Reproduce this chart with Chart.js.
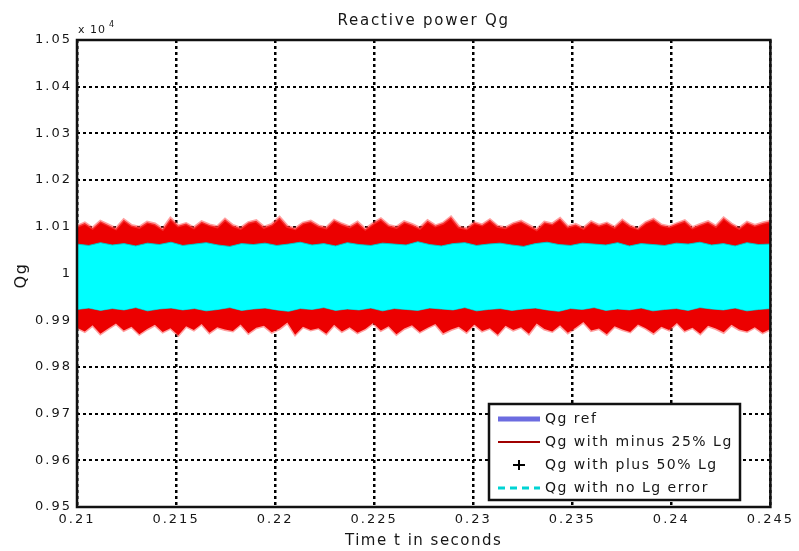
<!DOCTYPE html>
<html>
<head>
<meta charset="utf-8">
<title>Reactive power Qg</title>
<script src="https://cdn.jsdelivr.net/npm/chart.js@4.4.0/dist/chart.umd.min.js"></script>
<style>
  html, body { margin: 0; padding: 0; background: #fff; }
  #wrap { width: 799px; height: 551px; }
</style>
</head>
<body>
<div id="wrap"><canvas id="qgChart"></canvas></div>
<script>
// --- axis ticks (values shown in units of 10^4 var) ---
const xTicks = [0.21, 0.215, 0.22, 0.225, 0.23, 0.235, 0.24, 0.245];
const xTickLabels = ['0.21', '0.215', '0.22', '0.225', '0.23', '0.235', '0.24', '0.245'];
const yTicks = [0.95, 0.96, 0.97, 0.98, 0.99, 1.0, 1.01, 1.02, 1.03, 1.04, 1.05];
const yTickLabels = ['0.95', '0.96', '0.97', '0.98', '0.99', '1', '1.01', '1.02', '1.03', '1.04', '1.05'];
const timeStart = 0.21;
const timeEnd = 0.245;

// --- series ---
const qgRef = [1.0, 1.0];

// Qg with minus 25% Lg : upper / lower envelope of the fast oscillation
const qgMinus25Upper = [
  1.0101, 1.0108, 1.0097, 1.0112, 1.0104, 1.0096, 1.0115, 1.0103, 1.0099, 1.0110,
  1.0106, 1.0095, 1.0118, 1.0102, 1.0107, 1.0098, 1.0111, 1.0104, 1.0100, 1.0116,
  1.0103, 1.0097, 1.0109, 1.0113, 1.0099, 1.0105, 1.0120, 1.0101, 1.0096, 1.0108,
  1.0112, 1.0102, 1.0098, 1.0114, 1.0106, 1.0100, 1.0110, 1.0095, 1.0107, 1.0117,
  1.0103, 1.0099, 1.0111, 1.0105, 1.0097, 1.0113, 1.0102, 1.0108, 1.0121, 1.0100,
  1.0096, 1.0109, 1.0104, 1.0115, 1.0101, 1.0098, 1.0107, 1.0112, 1.0103, 1.0094,
  1.0110, 1.0106, 1.0118, 1.0100, 1.0105, 1.0097, 1.0111, 1.0103, 1.0108, 1.0099,
  1.0114, 1.0102, 1.0096, 1.0109, 1.0116, 1.0104, 1.0100, 1.0107, 1.0113, 1.0098,
  1.0105, 1.0111, 1.0101, 1.0119, 1.0106, 1.0097, 1.0110, 1.0103, 1.0108, 1.0112
];
const qgMinus25Lower = [
  0.9884, 0.9876, 0.9889, 0.9871, 0.9882, 0.9893, 0.9878, 0.9886, 0.9870, 0.9881,
  0.9890, 0.9875, 0.9883, 0.9868, 0.9887, 0.9879, 0.9892, 0.9873, 0.9885, 0.9880,
  0.9877, 0.9891, 0.9872, 0.9884, 0.9888, 0.9874, 0.9882, 0.9895, 0.9869, 0.9886,
  0.9879, 0.9883, 0.9871, 0.9890, 0.9876, 0.9885, 0.9873, 0.9881, 0.9894, 0.9878,
  0.9887, 0.9870, 0.9882, 0.9889, 0.9875, 0.9884, 0.9892, 0.9872, 0.9880, 0.9886,
  0.9874, 0.9891, 0.9877, 0.9883, 0.9869, 0.9888, 0.9879, 0.9885, 0.9871, 0.9893,
  0.9881, 0.9876, 0.9889, 0.9873, 0.9884, 0.9896, 0.9878, 0.9882, 0.9870, 0.9887,
  0.9880, 0.9875, 0.9891, 0.9883, 0.9872, 0.9886, 0.9879, 0.9894, 0.9877, 0.9884,
  0.9871, 0.9888, 0.9882, 0.9874, 0.9890, 0.9880, 0.9876, 0.9885, 0.9873, 0.9881
];

// Qg with plus 50% Lg (sits inside the cyan band)
const qgPlus50 = [
  1.0038, 0.9963, 1.0041, 0.9960, 1.0036, 0.9965, 1.0040, 0.9962, 1.0039, 0.9961,
  1.0037, 0.9964, 1.0042, 0.9959, 1.0035, 0.9963, 1.0040, 0.9961, 1.0038, 0.9962,
  1.0041, 0.9960, 1.0036, 0.9964
];

// Qg with no Lg error : upper / lower envelope
const qgNoErrUpper = [
  1.0063, 1.0060, 1.0066, 1.0061, 1.0064, 1.0059, 1.0065, 1.0062, 1.0067, 1.0060,
  1.0063, 1.0066, 1.0061, 1.0058, 1.0064, 1.0062, 1.0065, 1.0060, 1.0063, 1.0067,
  1.0061, 1.0064, 1.0059, 1.0066, 1.0062, 1.0060, 1.0065, 1.0063, 1.0061, 1.0068,
  1.0062, 1.0059, 1.0064, 1.0066, 1.0060, 1.0063, 1.0065, 1.0061, 1.0058, 1.0064,
  1.0067, 1.0062, 1.0060, 1.0065, 1.0063, 1.0061, 1.0066, 1.0059, 1.0064, 1.0062,
  1.0060, 1.0065, 1.0063, 1.0067, 1.0061, 1.0064, 1.0059, 1.0066, 1.0062, 1.0063
];
const qgNoErrLower = [
  0.9923, 0.9926, 0.9921, 0.9925, 0.9922, 0.9927, 0.9920, 0.9924, 0.9926, 0.9922,
  0.9925, 0.9920, 0.9923, 0.9927, 0.9921, 0.9924, 0.9926, 0.9922, 0.9919, 0.9925,
  0.9923, 0.9927, 0.9921, 0.9924, 0.9922, 0.9926, 0.9920, 0.9925, 0.9923, 0.9921,
  0.9926, 0.9924, 0.9922, 0.9927, 0.9920, 0.9923, 0.9925, 0.9921, 0.9924, 0.9926,
  0.9922, 0.9919, 0.9925, 0.9923, 0.9927, 0.9921, 0.9924, 0.9922, 0.9926, 0.9920,
  0.9923, 0.9925, 0.9921, 0.9927, 0.9924, 0.9922, 0.9926, 0.9920, 0.9923, 0.9925
];

const FONT = '"DejaVu Sans", "Liberation Sans", sans-serif';
const TEXT_COLOR = '#161616';

// samples are evenly spaced over the shown time window
function toPoints(values) {
  const step = (timeEnd - timeStart) / (values.length - 1);
  return values.map((v, i) => ({ x: timeStart + i * step, y: v }));
}

// the reference text is wide, so add some letter spacing
const spacingPlugin = {
  id: 'spacing',
  beforeLayout(chart) { chart.ctx.letterSpacing = '2px'; },
  beforeDraw(chart) { chart.ctx.letterSpacing = '2px'; }
};

// box, titles and the legend, MATLAB style
const decorPlugin = {
  id: 'decor',
  afterDraw(chart) {
    const ctx = chart.ctx;
    const a = chart.chartArea;
    ctx.save();

    // axes box
    ctx.strokeStyle = '#111';
    ctx.lineWidth = 2.5;
    ctx.setLineDash([]);
    ctx.strokeRect(a.left, a.top, a.right - a.left, a.bottom - a.top);

    ctx.fillStyle = TEXT_COLOR;

    // title
    ctx.letterSpacing = '1.8px';
    ctx.font = '15px ' + FONT;
    ctx.textAlign = 'center';
    ctx.textBaseline = 'middle';
    ctx.fillText('Reactive power Qg', (a.left + a.right) / 2, 21);

    // x axis title
    ctx.letterSpacing = '1.5px';
    ctx.fillText('Time t in seconds', (a.left + a.right) / 2, 541);

    // y axis title
    ctx.save();
    ctx.translate(22, (a.top + a.bottom) / 2 + 2);
    ctx.rotate(-Math.PI / 2);
    ctx.font = '16px ' + FONT;
    ctx.fillText('Qg', 0, 0);
    ctx.restore();

    // exponent
    ctx.letterSpacing = '1px';
    ctx.textAlign = 'left';
    ctx.textBaseline = 'alphabetic';
    ctx.font = '11px ' + FONT;
    ctx.fillText('x 10', a.left + 1, 33);
    ctx.font = '8px ' + FONT;
    ctx.fillText('4', a.left + 32, 27);

    // legend
    const lx = 489, ly = 404, lw = 251, lh = 96;
    ctx.fillStyle = '#fff';
    ctx.fillRect(lx, ly, lw, lh);
    ctx.strokeStyle = '#111';
    ctx.lineWidth = 2.5;
    ctx.strokeRect(lx, ly, lw, lh);

    const rows = [
      { label: 'Qg ref', kind: 'line', color: '#6c6ce0', width: 5, dash: [] },
      { label: 'Qg with minus 25% Lg', kind: 'line', color: '#a00000', width: 2, dash: [] },
      { label: 'Qg with plus 50% Lg', kind: 'cross', color: '#000' },
      { label: 'Qg with no Lg error', kind: 'line', color: '#00d4d4', width: 3, dash: [7, 5] }
    ];
    const rowY = [419, 442, 465, 488];
    ctx.font = '14px ' + FONT;
    ctx.letterSpacing = '1.5px';
    ctx.textBaseline = 'middle';
    rows.forEach((r, i) => {
      const y = rowY[i];
      if (r.kind === 'line') {
        ctx.strokeStyle = r.color;
        ctx.lineWidth = r.width;
        ctx.setLineDash(r.dash);
        ctx.beginPath();
        ctx.moveTo(498, y);
        ctx.lineTo(540, y);
        ctx.stroke();
        ctx.setLineDash([]);
      } else {
        ctx.strokeStyle = r.color;
        ctx.lineWidth = 2;
        ctx.beginPath();
        ctx.moveTo(513, y);
        ctx.lineTo(525, y);
        ctx.moveTo(519, y - 5);
        ctx.lineTo(519, y + 5);
        ctx.stroke();
      }
      ctx.fillStyle = TEXT_COLOR;
      ctx.fillText(r.label, 545, y);
    });

    ctx.restore();
  }
};

const ctx = document.getElementById('qgChart').getContext('2d');

new Chart(ctx, {
  type: 'line',
  data: {
    datasets: [
      {
        label: 'Qg with no Lg error',
        data: toPoints(qgNoErrUpper),
        borderColor: 'rgba(0, 200, 200, 0.9)',
        borderWidth: 1,
        backgroundColor: '#00ffff',
        fill: '+1',
        pointRadius: 0,
        order: 0
      },
      {
        label: 'Qg with no Lg error (lower)',
        data: toPoints(qgNoErrLower),
        borderColor: 'rgba(0, 200, 200, 0.9)',
        borderWidth: 1,
        fill: false,
        pointRadius: 0,
        order: 0
      },
      {
        label: 'Qg ref',
        data: toPoints(qgRef),
        borderColor: '#6c6ce0',
        borderWidth: 4,
        fill: false,
        pointRadius: 0,
        order: 1
      },
      {
        label: 'Qg with plus 50% Lg',
        data: toPoints(qgPlus50),
        borderColor: '#000',
        borderWidth: 1,
        fill: false,
        pointRadius: 0,
        order: 2
      },
      {
        label: 'Qg with minus 25% Lg',
        data: toPoints(qgMinus25Upper),
        borderColor: 'rgba(255, 80, 80, 0.55)',
        borderWidth: 3,
        backgroundColor: 'rgb(236, 0, 0)',
        fill: '+1',
        pointRadius: 0,
        order: 3
      },
      {
        label: 'Qg with minus 25% Lg (lower)',
        data: toPoints(qgMinus25Lower),
        borderColor: 'rgba(255, 80, 80, 0.55)',
        borderWidth: 3,
        fill: false,
        pointRadius: 0,
        order: 3
      }
    ]
  },
  options: {
    responsive: true,
    maintainAspectRatio: false,
    animation: false,
    devicePixelRatio: 1,
    layout: { padding: { top: 40, right: 24, bottom: 0, left: 0 } },
    plugins: {
      legend: { display: false },
      title: { display: false },
      tooltip: { enabled: false }
    },
    scales: {
      x: {
        type: 'linear',
        min: timeStart,
        max: timeEnd,
        afterBuildTicks: (scale) => { scale.ticks = xTicks.map(v => ({ value: v })); },
        afterFit: (scale) => { scale.height = 44; },
        ticks: {
          callback: (v, i) => xTickLabels[i],
          font: { family: FONT, size: 13 },
          color: TEXT_COLOR,
          padding: 5,
          maxRotation: 0,
          autoSkip: false
        },
        grid: { color: '#000', lineWidth: 2.5, drawTicks: false },
        border: { display: false, dash: [3, 3] }
      },
      y: {
        type: 'linear',
        min: 0.95,
        max: 1.05,
        afterBuildTicks: (scale) => { scale.ticks = yTicks.map(v => ({ value: v })); },
        afterFit: (scale) => { scale.width = 77; },
        ticks: {
          callback: (v, i) => yTickLabels[i],
          font: { family: FONT, size: 13 },
          color: TEXT_COLOR,
          padding: 5,
          autoSkip: false
        },
        grid: { color: '#000', lineWidth: 2, drawTicks: false },
        border: { display: false, dash: [3, 3] }
      }
    }
  },
  plugins: [spacingPlugin, decorPlugin]
});
</script>
</body>
</html>
